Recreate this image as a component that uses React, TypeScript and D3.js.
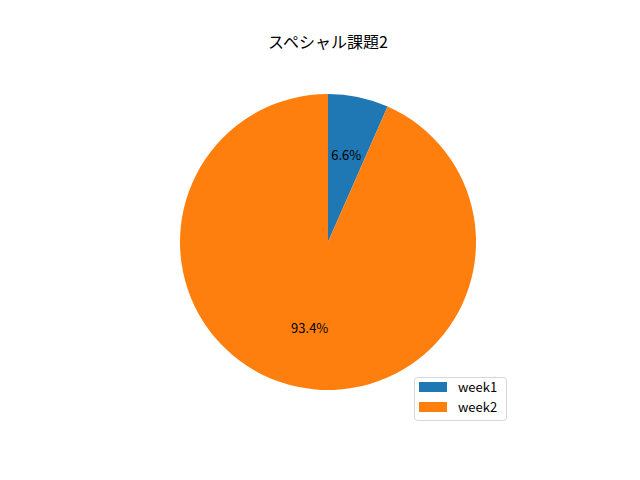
import React from 'react';
import * as d3 from 'd3';

const labels = ['week1', 'week2'];
const values = [6.6, 93.4];
const colors = ['#1f77b4', '#ff7f0e'];
const title = 'スペシャル課題2';

const App = () => {
  const width = 640;
  const height = 480;
  const cx = 328;
  const cy = 242;
  const radius = 148;

  // matplotlib style: start at top, clockwise
  const pie = d3.pie<number>().sort(null).startAngle(0).endAngle(2 * Math.PI);
  const arcs = pie(values);
  const arcGen = d3.arc<d3.PieArcDatum<number>>().innerRadius(0).outerRadius(radius);
  const total = d3.sum(values);

  const font = '"Noto Sans CJK JP", "DejaVu Sans", sans-serif';

  return (
    <svg width={width} height={height} style={{ position: 'absolute', left: 0, top: 0 }}>
      <rect width={width} height={height} fill="white" />
      <text x={cx} y={48} textAnchor="middle" fontSize={16} fontFamily={font} fill="#000">
        {title}
      </text>
      <g transform={`translate(${cx},${cy})`}>
        {arcs.map((a, i) => (
          <path key={labels[i]} d={arcGen(a) || ''} fill={colors[i]} />
        ))}
        {arcs.map((a, i) => {
          const mid = (a.startAngle + a.endAngle) / 2;
          const r = radius * 0.6;
          return (
            <text
              key={`lbl-${i}`}
              x={r * Math.sin(mid)}
              y={-r * Math.cos(mid)}
              dy="0.35em"
              textAnchor="middle"
              fontSize={13}
              fontFamily={font}
              fill="#000"
            >
              {`${((values[i] / total) * 100).toFixed(1)}%`}
            </text>
          );
        })}
      </g>
      <g transform="translate(414,377)">
        <rect x={0.5} y={0.5} width={92} height={43} rx={3} fill="white" stroke="#d6d6d6" />
        {labels.map((l, i) => (
          <g key={`leg-${l}`} transform={`translate(5,${5 + i * 20})`}>
            <rect x={0} y={0} width={28} height={10} fill={colors[i]} />
            <text x={39} y={5} dy="0.35em" fontSize={13} fontFamily={font} fill="#000">
              {l}
            </text>
          </g>
        ))}
      </g>
    </svg>
  );
};

export default App;
